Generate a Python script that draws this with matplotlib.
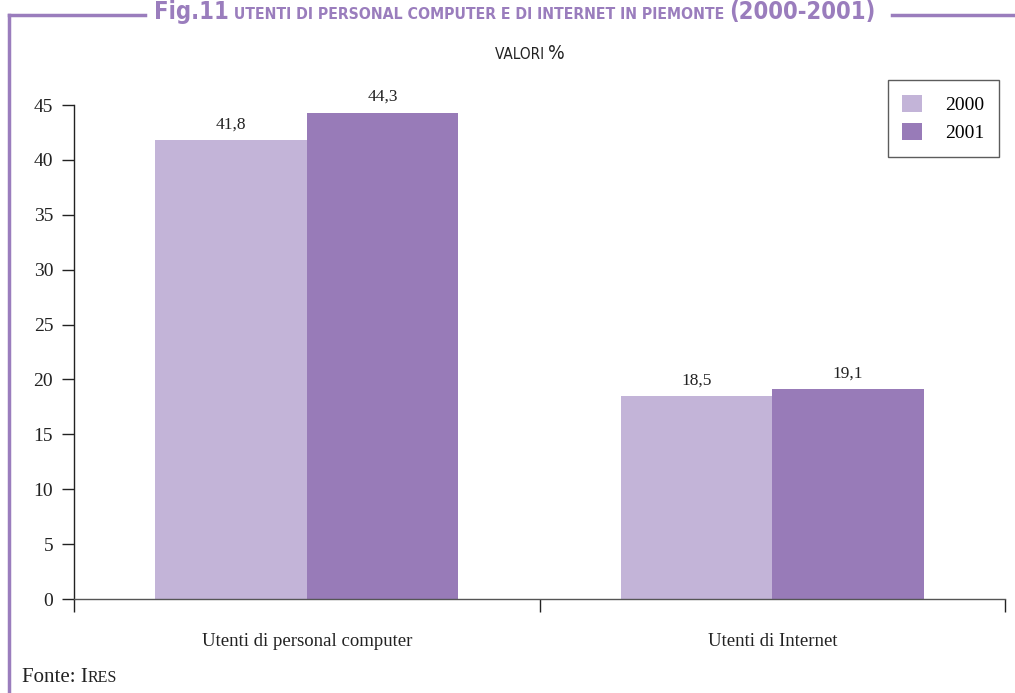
import matplotlib
matplotlib.use("Agg")
import matplotlib.pyplot as plt
from matplotlib.lines import Line2D
import numpy as np

categories = ["Utenti di personal computer", "Utenti di Internet"]
years = ["2000", "2001"]
values_2000 = [41.8, 18.5]
values_2001 = [44.3, 19.1]
value_labels_2000 = ["41,8", "18,5"]
value_labels_2001 = ["44,3", "19,1"]
yticks = [0, 5, 10, 15, 20, 25, 30, 35, 40, 45]

c_light = "#c3b4d8"
c_dark = "#987bb8"
c_title = "#9a7dbd"
serif = ["Liberation Serif", "DejaVu Serif"]

fig = plt.figure(figsize=(10.15, 6.93), dpi=100)
W, H = 1015, 693
ax = fig.add_axes([74 / W, 1 - 599 / H, (1005 - 74) / W, (599 - 105) / H])

x = np.arange(len(categories))
bw = 0.325
ax.bar(x - bw / 2, values_2000, bw, color=c_light, label=years[0])
ax.bar(x + bw / 2, values_2001, bw, color=c_dark, label=years[1])
for xi, v, t in zip(x - bw / 2, values_2000, value_labels_2000):
    ax.text(xi, v + 0.7, t, ha="center", va="bottom", fontsize=12.5, family=serif, color="#222222")
for xi, v, t in zip(x + bw / 2, values_2001, value_labels_2001):
    ax.text(xi, v + 0.7, t, ha="center", va="bottom", fontsize=12.5, family=serif, color="#222222")

ax.set_xlim(-0.5, 1.5)
ax.set_ylim(0, 45)
ax.set_yticks(yticks)
ax.set_yticklabels([str(t) for t in yticks], family=serif, fontsize=14, color="#222222")
ax.set_xticks([-0.5, 0.5, 1.5])
ax.set_xticklabels([])
ax.tick_params(axis="x", direction="out", length=9, width=1, color="#222222")
ax.tick_params(axis="y", direction="out", length=9, width=1, color="#222222", pad=6)
ax.spines["top"].set_visible(False)
ax.spines["right"].set_visible(False)
for s in ("left", "bottom"):
    ax.spines[s].set_color("#222222")
    ax.spines[s].set_linewidth(1)
ax.spines["bottom"].set_color("#555555")

for xi, c in zip(x, categories):
    ax.text(xi, -3.9, c, ha="center", va="center", fontsize=13.5, family=serif, color="#222222")

leg = ax.legend(loc="upper right", bbox_to_anchor=(999 / W, 1 - 80 / H), bbox_transform=fig.transFigure,
                prop={"family": serif, "size": 14}, frameon=True, fancybox=False,
                handlelength=1.0, handleheight=1.0, handletextpad=1.2, borderpad=0.75,
                labelspacing=0.45, borderaxespad=0)
leg.get_frame().set_edgecolor("#333333")
leg.get_frame().set_linewidth(1)

# Frame around the figure
fig.add_artist(Line2D([9 / W, 9 / W], [0, 1 - 15 / H], transform=fig.transFigure, color=c_title, lw=2.5))
fig.add_artist(Line2D([9 / W, 145 / W], [1 - 15 / H, 1 - 15 / H], transform=fig.transFigure, color=c_title, lw=2.5))
fig.add_artist(Line2D([892 / W, 1], [1 - 15 / H, 1 - 15 / H], transform=fig.transFigure, color=c_title, lw=2.5))

# Title built from pieces of different sizes
fig.canvas.draw()
renderer = fig.canvas.get_renderer()
pieces = [("Fig.11", 17), (" UTENTI DI PERSONAL COMPUTER E DI INTERNET IN PIEMONTE ", 11.3), ("(2000-2001)", 17)]
texts = []
for s, size in pieces:
    t = fig.text(0, 1 - 19 / H, s, fontsize=size, fontweight="bold", color=c_title,
                 family="DejaVu Sans", fontstretch="condensed", ha="left", va="baseline")
    texts.append(t)
widths = [t.get_window_extent(renderer).width for t in texts]
total = sum(widths)
start = 515 - total / 2
for t, w in zip(texts, widths):
    t.set_x(start / W)
    start += w

# Subtitle with a larger percent sign
sub1 = fig.text(0, 1 - 59 / H, "VALORI ", ha="left", va="baseline", fontsize=11, family="DejaVu Sans",
                fontstretch="condensed", color="#222222")
sub2 = fig.text(0, 1 - 59 / H, "%", ha="left", va="baseline", fontsize=14, family="DejaVu Sans",
                fontstretch="condensed", color="#222222")
w1 = sub1.get_window_extent(renderer).width
w2 = sub2.get_window_extent(renderer).width
s0 = 530 - (w1 + w2) / 2
sub1.set_x(s0 / W)
sub2.set_x((s0 + w1) / W)

fs1 = fig.text(22 / W, 1 - 678 / H, "Fonte: I", ha="left", va="center", fontsize=15, family=serif, color="#222222")
fig.canvas.draw()
bb = fs1.get_window_extent(renderer)
fig.text(bb.x1 / W, 1 - 678 / H, "RES", ha="left", va="center", fontsize=11.5, family=serif, color="#222222")

fig.savefig("out.png", dpi=100)
